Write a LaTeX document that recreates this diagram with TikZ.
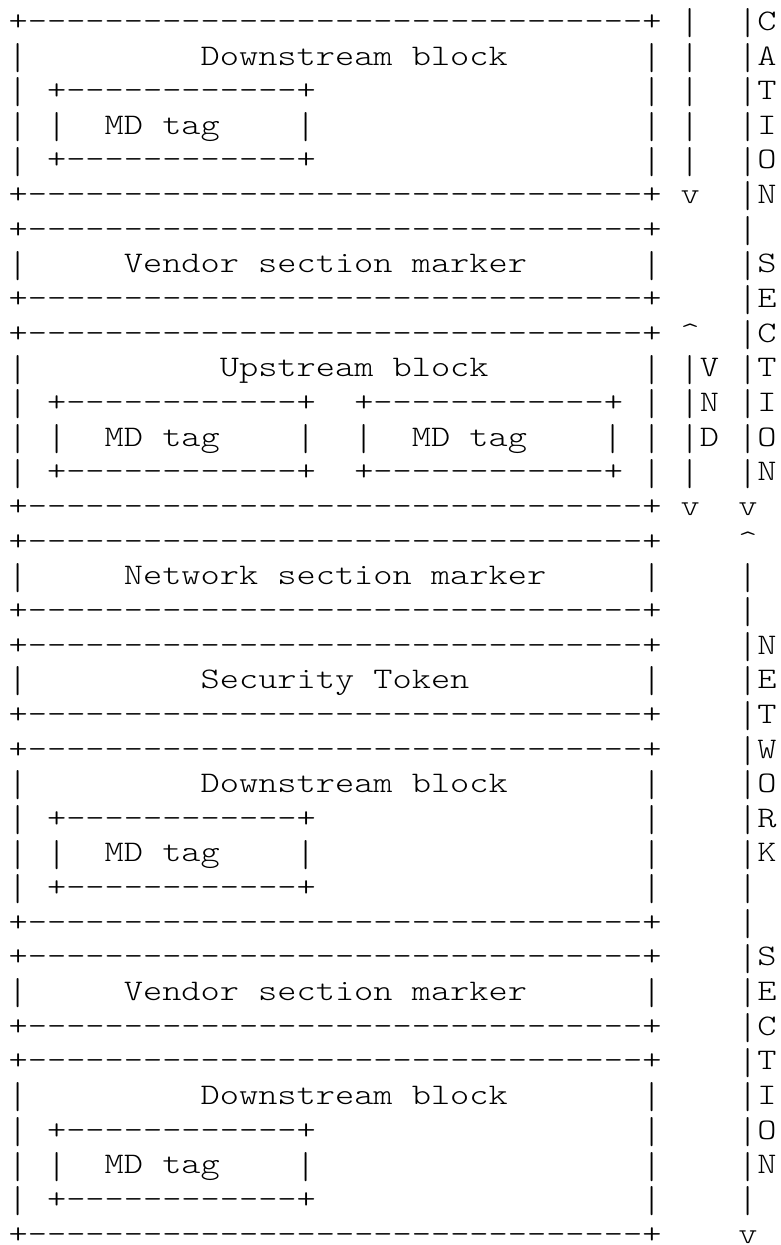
\documentclass[tikz,border=0pt]{standalone}
\usepackage{graphicx}
\usepackage{tikz}

\newcommand{\asciitext}[1]{\scalebox{1.2245}[1]{\fontsize{22.4pt}{26pt}\fontseries{l}\ttfamily #1}}
\newcommand{\dashrun}[1]{\foreach \k in {1,...,#1}{-}}
\newcommand{\barglyph}{\raisebox{-3.2pt}{\scalebox{1}[1.25]{\asciitext{|}}}}

\begin{document}
\begin{tikzpicture}[x=14.4pt, y=-25.99pt,
  ch/.style={anchor=base west, inner sep=0pt, outer sep=0pt}]

	  \useasboundingbox (-0.453,0.124) rectangle (40.22,36.054);

	  %---------------------------------------------------------------- downstream block
	  \node[ch] (dsAtop) at (0,1) {\asciitext{+\dashrun{32}+}};
	  \foreach \r in {2,...,5} {
	    \node[ch] (dsAl\r) at (0,\r) {\barglyph};
	    \node[ch] (dsAr\r) at (33,\r) {\barglyph};
	  }
	  \node[ch] (dsA) at (10,2) {\asciitext{Downstream block}};
	  \node[ch] (mdAtop) at (2,3) {\asciitext{+\dashrun{12}+}};
	  \node[ch] (mdAl) at (2,4) {\barglyph};
	  \node[ch] (mdA) at (5,4) {\asciitext{MD tag}};
	  \node[ch] (mdAr) at (15,4) {\barglyph};
	  \node[ch] (mdAbot) at (2,5) {\asciitext{+\dashrun{12}+}};
	  \node[ch] (dsAbot) at (0,6) {\asciitext{+\dashrun{32}+}};

	  %---------------------------------------------------------------- vendor section marker
	  \node[ch] (vnAtop) at (0,7) {\asciitext{+\dashrun{32}+}};
	  \node[ch] (vnAl) at (0,8) {\barglyph};
	  \node[ch] (vnA) at (6,8) {\asciitext{Vendor section marker}};
	  \node[ch] (vnAr) at (33,8) {\barglyph};
	  \node[ch] (vnAbot) at (0,9) {\asciitext{+\dashrun{32}+}};

	  %---------------------------------------------------------------- upstream block
	  \node[ch] (upBtop) at (0,10) {\asciitext{+\dashrun{32}+}};
	  \foreach \r in {11,...,14} {
	    \node[ch] (upBl\r) at (0,\r) {\barglyph};
	    \node[ch] (upBr\r) at (33,\r) {\barglyph};
	  }
	  \node[ch] (upB) at (11,11) {\asciitext{Upstream block}};
	  \node[ch] (mdBtop) at (2,12) {\asciitext{+\dashrun{12}+}};
	  \node[ch] (mdBl) at (2,13) {\barglyph};
	  \node[ch] (mdB) at (5,13) {\asciitext{MD tag}};
	  \node[ch] (mdBr) at (15,13) {\barglyph};
	  \node[ch] (mdBbot) at (2,14) {\asciitext{+\dashrun{12}+}};
	  \node[ch] (mdCtop) at (18,12) {\asciitext{+\dashrun{12}+}};
	  \node[ch] (mdCl) at (18,13) {\barglyph};
	  \node[ch] (mdC) at (21,13) {\asciitext{MD tag}};
	  \node[ch] (mdCr) at (31,13) {\barglyph};
	  \node[ch] (mdCbot) at (18,14) {\asciitext{+\dashrun{12}+}};
	  \node[ch] (upBbot) at (0,15) {\asciitext{+\dashrun{32}+}};

	  %---------------------------------------------------------------- network section marker
	  \node[ch] (ntCtop) at (0,16) {\asciitext{+\dashrun{32}+}};
	  \node[ch] (ntCl) at (0,17) {\barglyph};
	  \node[ch] (ntC) at (6,17) {\asciitext{Network section marker}};
	  \node[ch] (ntCr) at (33,17) {\barglyph};
	  \node[ch] (ntCbot) at (0,18) {\asciitext{+\dashrun{32}+}};

	  %---------------------------------------------------------------- security token
	  \node[ch] (stDtop) at (0,19) {\asciitext{+\dashrun{32}+}};
	  \node[ch] (stDl) at (0,20) {\barglyph};
	  \node[ch] (stD) at (10,20) {\asciitext{Security Token}};
	  \node[ch] (stDr) at (33,20) {\barglyph};
	  \node[ch] (stDbot) at (0,21) {\asciitext{+\dashrun{32}+}};

	  %---------------------------------------------------------------- downstream block
	  \node[ch] (dsEtop) at (0,22) {\asciitext{+\dashrun{32}+}};
	  \foreach \r in {23,...,26} {
	    \node[ch] (dsEl\r) at (0,\r) {\barglyph};
	    \node[ch] (dsEr\r) at (33,\r) {\barglyph};
	  }
	  \node[ch] (dsE) at (10,23) {\asciitext{Downstream block}};
	  \node[ch] (mdEtop) at (2,24) {\asciitext{+\dashrun{12}+}};
	  \node[ch] (mdEl) at (2,25) {\barglyph};
	  \node[ch] (mdE) at (5,25) {\asciitext{MD tag}};
	  \node[ch] (mdEr) at (15,25) {\barglyph};
	  \node[ch] (mdEbot) at (2,26) {\asciitext{+\dashrun{12}+}};
	  \node[ch] (dsEbot) at (0,27) {\asciitext{+\dashrun{32}+}};

	  %---------------------------------------------------------------- vendor section marker
	  \node[ch] (vnFtop) at (0,28) {\asciitext{+\dashrun{32}+}};
	  \node[ch] (vnFl) at (0,29) {\barglyph};
	  \node[ch] (vnF) at (6,29) {\asciitext{Vendor section marker}};
	  \node[ch] (vnFr) at (33,29) {\barglyph};
	  \node[ch] (vnFbot) at (0,30) {\asciitext{+\dashrun{32}+}};

	  %---------------------------------------------------------------- downstream block
	  \node[ch] (dsGtop) at (0,31) {\asciitext{+\dashrun{32}+}};
	  \foreach \r in {32,...,35} {
	    \node[ch] (dsGl\r) at (0,\r) {\barglyph};
	    \node[ch] (dsGr\r) at (33,\r) {\barglyph};
	  }
	  \node[ch] (dsG) at (10,32) {\asciitext{Downstream block}};
	  \node[ch] (mdGtop) at (2,33) {\asciitext{+\dashrun{12}+}};
	  \node[ch] (mdGl) at (2,34) {\barglyph};
	  \node[ch] (mdG) at (5,34) {\asciitext{MD tag}};
	  \node[ch] (mdGr) at (15,34) {\barglyph};
	  \node[ch] (mdGbot) at (2,35) {\asciitext{+\dashrun{12}+}};
	  \node[ch] (dsGbot) at (0,36) {\asciitext{+\dashrun{32}+}};

	  %---------------------------------------------------------------- block arrows (col 35)
	  \foreach \r in {1,...,5} \node[ch] (blA\r) at (35,\r) {\barglyph};
	  \node[ch] (blAend) at (35,6) {\asciitext{v}};
	  \node[ch] (vndStart) at (35,10) {\asciitext{\textasciicircum}};
	  \foreach \r in {11,...,14} \node[ch] (vnd\r) at (35,\r) {\barglyph};
	  \node[ch] (vndEnd) at (35,15) {\asciitext{v}};
	  \foreach \ltr [count=\r from 11] in {V,N,D} \node[ch] (vndL\r) at (36,\r) {\asciitext{\ltr}};

	  %---------------------------------------------------------------- section arrows (col 38)
	  \foreach \r in {1,...,14} \node[ch] (app\r) at (38,\r) {\barglyph};
	  \node[ch] (appEnd) at (38,15) {\asciitext{v}};
	  \foreach \ltr [count=\r from 1] in {C,A,T,I,O,N} \node[ch] (appL\r) at (39,\r) {\asciitext{\ltr}};
	  \foreach \ltr [count=\r from 8] in {S,E,C,T,I,O,N} \node[ch] (appL\r) at (39,\r) {\asciitext{\ltr}};

	  \node[ch] (netStart) at (38,16) {\asciitext{\textasciicircum}};
	  \foreach \r in {17,...,35} \node[ch] (net\r) at (38,\r) {\barglyph};
	  \node[ch] (netEnd) at (38,36) {\asciitext{v}};
	  \foreach \ltr [count=\r from 19] in {N,E,T,W,O,R,K} \node[ch] (netL\r) at (39,\r) {\asciitext{\ltr}};
	  \foreach \ltr [count=\r from 28] in {S,E,C,T,I,O,N} \node[ch] (netL\r) at (39,\r) {\asciitext{\ltr}};

\end{tikzpicture}
\end{document}
